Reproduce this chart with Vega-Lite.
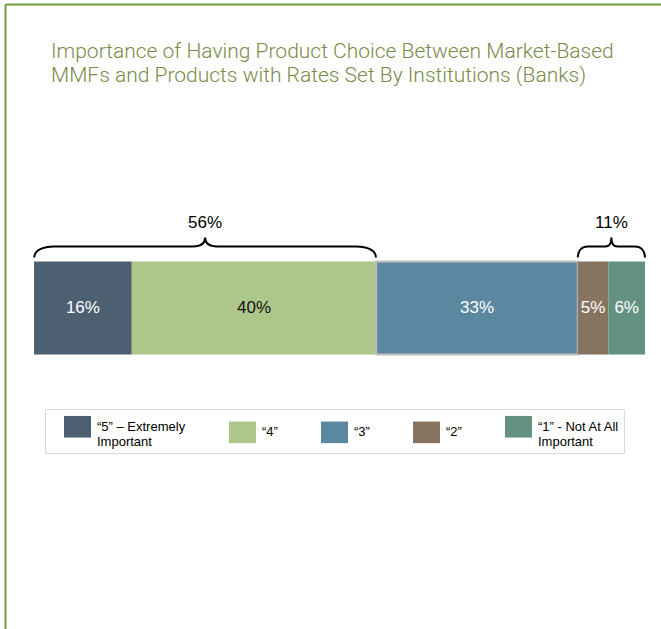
{
  "$schema": "https://vega.github.io/schema/vega-lite/v6.json",
  "width": 661,
  "height": 629,
  "autosize": {"type": "fit", "contains": "padding"},
  "padding": {"left": 5, "top": 4, "right": 0, "bottom": 0},
  "background": "white",
  "title": {
    "text": ["Importance of Having Product Choice Between Market-Based", "MMFs and Products with Rates Set By Institutions (Banks)"],
    "anchor": "start",
    "frame": "group",
    "dx": 46,
    "offset": -82,
    "baseline": "top",
    "font": "Roboto",
    "fontWeight": 300,
    "fontSize": 21,
    "lineHeight": 24,
    "color": "#7a8a48"
  },
  "config": {
    "view": {"stroke": null},
    "axis": {"labels": false, "ticks": false, "grid": false, "title": null, "domainColor": "#6f9e3e", "domainWidth": 2}
  },
  "layer": [
    {
      "data": {"values": [
        {"question": "Banks", "rating": "“5” – Extremely Important", "score": 5, "share": 0.16},
        {"question": "Banks", "rating": "“4”", "score": 4, "share": 0.40},
        {"question": "Banks", "rating": "“3”", "score": 3, "share": 0.33},
        {"question": "Banks", "rating": "“2”", "score": 2, "share": 0.05},
        {"question": "Banks", "rating": "“1” - Not At All Important", "score": 1, "share": 0.06}
      ]},
      "layer": [
        {
          "mark": {"type": "bar", "stroke": "#bfbfbf", "height": {"band": 0.447}},
          "encoding": {
            "y": {"field": "question", "type": "nominal", "scale": {"paddingInner": 0, "paddingOuter": 1, "align": 0.4796}, "axis": {"orient": "left"}},
            "x": {"field": "share", "type": "quantitative", "stack": "zero", "scale": {"domain": [-0.04754, 1.0262], "nice": false, "zero": false}, "axis": {"orient": "top"}},
            "order": {"field": "score", "sort": "descending"},
            "color": {
              "field": "rating", "type": "nominal",
              "scale": {
                "domain": ["“5” – Extremely Important", "“4”", "“3”", "“2”", "“1” - Not At All Important"],
                "range": ["#4d6071", "#adc68a", "#5b87a0", "#867360", "#639380"]
              },
              "legend": {
                "title": "--",
                "titleOrient": "left",
                "titlePadding": 6,
                "titleFontSize": 13,
                "titleFont": "Liberation Sans",
                "titleFontWeight": "normal",
                "titleOpacity": 0,
                "orient": "none",
                "legendX": 40,
                "legendY": 405,
                "direction": "horizontal",
                "columns": 5,
                "columnPadding": 43,
                "padding": 4,
                "strokeColor": "#d9d9d9",
                "symbolType": "M-1,-0.8H1V0.8H-1Z",
                "symbolSize": 729,
                "symbolStrokeWidth": 0,
                "symbolOpacity": 1,
                "labelFont": "Liberation Sans",
                "labelFontSize": 13,
                "labelColor": "#000000",
                "labelOffset": 6,
                "labelLimit": 300,
                "labelExpr": "datum.label == '“5” – Extremely Important' ? ['“5” – Extremely', 'Important'] : datum.label == '“1” - Not At All Important' ? ['“1” - Not At All', 'Important'] : datum.label",
                "encode": {
                  "legend": {"update": {"strokeWidth": {"value": 2}}},
                  "labels": {"update": {"lineHeight": {"value": 15}}}
                }
              }
            },
            "strokeWidth": {"condition": {"test": "datum.score == 3", "value": 2}, "value": 0}
          }
        },
        {
          "mark": {"type": "text", "font": "Liberation Sans", "fontSize": 17, "baseline": "middle", "align": "center"},
          "encoding": {
            "y": {"field": "question", "type": "nominal"},
            "x": {"field": "share", "type": "quantitative", "stack": "zero", "bandPosition": 0.5},
            "order": {"field": "score", "sort": "descending"},
            "text": {"field": "share", "type": "quantitative", "format": ".0%"},
            "color": {"condition": {"test": "datum.score == 4", "value": "#111111"}, "value": "#ffffff"}
          }
        }
      ]
    },
    {
      "data": {"values": [
        {"question": "Banks", "group": "Top 2", "mid": 0.28, "span": 0.56},
        {"question": "Banks", "group": "Bottom 2", "mid": 0.945, "span": 0.11}
      ]},
      "layer": [
        {
          "mark": {"type": "point", "filled": false, "stroke": "#000000", "strokeWidth": 2, "opacity": 1, "yOffset": -61.5},
          "encoding": {
            "y": {"field": "question", "type": "nominal"},
            "x": {"field": "mid", "type": "quantitative"},
            "shape": {
              "field": "group", "type": "nominal", "legend": null,
              "scale": {
                "domain": ["Top 2", "Bottom 2"],
                "range": [
                  "M-1,0.0643C-1,0.0234,-0.953,0,-0.883,0L-0.0702,0C-0.0234,0,0,-0.0175,0,-0.0526C0,-0.0175,0.0234,0,0.0702,0L0.883,0C0.953,0,1,0.0234,1,0.0643",
                  "M-1,0.328C-1,0.119,-0.88,0,-0.70,0L-0.18,0C-0.06,0,0,-0.09,0,-0.269C0,-0.09,0.06,0,0.18,0L0.70,0C0.88,0,1,0.119,1,0.328"
                ]
              }
            },
            "size": {"field": "span", "type": "quantitative", "legend": null, "scale": {"type": "pow", "exponent": 2, "domain": [0, 1], "range": [0, 372100]}}
          }
        },
        {
          "mark": {"type": "text", "font": "Liberation Sans", "fontSize": 17, "baseline": "middle", "align": "center", "dy": -85.5, "color": "#000000"},
          "encoding": {
            "y": {"field": "question", "type": "nominal"},
            "x": {"field": "mid", "type": "quantitative"},
            "text": {"field": "span", "type": "quantitative", "format": ".0%"}
          }
        }
      ]
    }
  ]
}
